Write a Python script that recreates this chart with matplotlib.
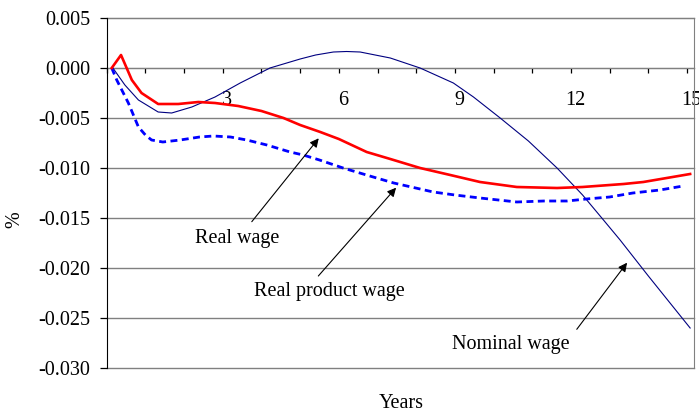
import matplotlib
matplotlib.use("Agg")
import matplotlib.pyplot as plt
from matplotlib.ticker import MultipleLocator, FixedLocator
import matplotlib.transforms as mtransforms

plt.rcParams['font.family'] = ['Liberation Serif', 'DejaVu Serif']
plt.rcParams['axes.unicode_minus'] = False

# Real wage
real_x = [0.13, 0.37, 0.65, 0.9, 1.33, 1.85, 2.37, 2.8, 3.4, 4.0, 4.57, 5.0, 5.52,
          6.0, 6.72, 7.33, 8.1, 8.88, 9.65, 10.6, 11.64, 12.3, 13.36, 13.87, 15.08]
real_y = [0.0, 0.0013, -0.0012, -0.0025, -0.0036, -0.0036, -0.0034, -0.0035, -0.0038,
          -0.0043, -0.0050, -0.0057, -0.0064, -0.0071, -0.0084, -0.0091, -0.0100, -0.0107,
          -0.0114, -0.0119, -0.0120, -0.0119, -0.0116, -0.0114, -0.0106]

# Real product wage
prod_x = [0.13, 0.26, 0.56, 0.82, 1.0, 1.16, 1.45, 1.9, 2.4, 2.76, 3.2, 3.62, 4.14, 4.74, 5.08,
          5.5, 6.11, 6.8, 7.42, 8.44, 9.0, 9.65, 10.6, 11.3, 11.9, 12.4, 13.0, 13.6, 14.3, 14.9]
prod_y = [0.0, -0.0012, -0.0035, -0.0059, -0.0067, -0.0072, -0.0074, -0.0072, -0.0069, -0.0068,
          -0.0069, -0.0072, -0.0077, -0.0084, -0.0087, -0.0092, -0.0100, -0.0108, -0.0115,
          -0.0124, -0.0127, -0.0130, -0.0134, -0.0133, -0.0133, -0.0131, -0.0129, -0.0125,
          -0.0122, -0.0118]

# Nominal wage
nom_x = [0.16, 0.47, 0.82, 1.33, 1.68, 2.2, 2.8, 3.45, 4.22, 5.0, 5.4, 5.86, 6.2, 6.55, 7.33,
         8.1, 8.96, 9.48, 10.17, 10.9, 11.64, 12.3, 12.84, 13.27, 14.0, 15.08]
nom_y = [0.0, -0.0017, -0.0032, -0.0044, -0.0045, -0.0039, -0.0029, -0.0015, 0.0, 0.0009,
         0.0013, 0.0016, 0.00165, 0.0016, 0.0010, 0.0, -0.0015, -0.0029, -0.0050, -0.0073,
         -0.0100, -0.0127, -0.0152, -0.0172, -0.0208, -0.0260]

x_tick_vals = [3, 6, 9, 12, 15]
x_tick_labels = ["3", "6", "9", "12", "15"]
y_tick_vals = [0.005, 0.0, -0.005, -0.010, -0.015, -0.020, -0.025, -0.030]

FS = 14.5

fig = plt.figure(figsize=(6.99, 4.18), dpi=100)
ax = fig.add_axes([106.7 / 699, 50 / 418, (694 - 106.7) / 699, 350 / 418])

grid_c = '#808080'
for v in y_tick_vals:
    ax.axhline(v, color=grid_c, lw=1.0, zorder=1, clip_on=False)

ax.plot(nom_x, nom_y, color='#000080', lw=0.8, zorder=3)
ax.plot(prod_x, prod_y, color='#0000FF', lw=2.0, dashes=(2.5, 1.6), zorder=3)
ax.plot(real_x, real_y, color='#FF0000', lw=1.9, zorder=4)

ax.set_xlim(0, 15.18)
ax.set_ylim(-0.030, 0.005)

ax.spines['bottom'].set_position(('data', 0))
ax.spines['bottom'].set_color(grid_c)
ax.spines['top'].set_color(grid_c)
ax.spines['right'].set_color(grid_c)
ax.spines['left'].set_color('black')
ax.spines['left'].set_zorder(5)

ax.xaxis.set_major_locator(FixedLocator(x_tick_vals))
ax.set_xticklabels(x_tick_labels)
ax.xaxis.set_minor_locator(MultipleLocator(1))
ax.tick_params(axis='x', which='both', direction='out', length=3.5, width=0.9,
               color='black', pad=13, labelsize=FS)
offset = mtransforms.ScaledTranslation(4 / 100, 0, fig.dpi_scale_trans)
for lbl in ax.get_xticklabels():
    lbl.set_transform(lbl.get_transform() + offset)
ax.set_yticks(y_tick_vals)
ax.set_yticklabels([f"{v:.3f}" for v in y_tick_vals])
ax.tick_params(axis='y', direction='out', length=5, width=0.9, pad=7, labelsize=FS)

fig.text(15 / 699, 1 - 220 / 418, "%", rotation=90, ha='center', va='center', fontsize=FS)
fig.text(401 / 699, 1 - 403 / 418, "Years", ha='center', va='center', fontsize=FS)

arrow = dict(arrowstyle='-|>', color='black', lw=0.8, mutation_scale=13,
             shrinkA=0, shrinkB=0)
ax.annotate("", xy=(5.48, -0.00703), xytext=(3.75, -0.01537), arrowprops=arrow)
ax.text(3.37, -0.0170, "Real wage", ha='center', va='center', fontsize=FS)
ax.annotate("", xy=(7.48, -0.01197), xytext=(5.47, -0.0208), arrowprops=arrow)
ax.text(5.75, -0.02237, "Real product wage", ha='center', va='center', fontsize=FS)
ax.annotate("", xy=(13.45, -0.01947), xytext=(12.15, -0.02613), arrowprops=arrow)
ax.text(10.45, -0.0276, "Nominal wage", ha='center', va='center', fontsize=FS)

fig.savefig("out.png", dpi=100)
